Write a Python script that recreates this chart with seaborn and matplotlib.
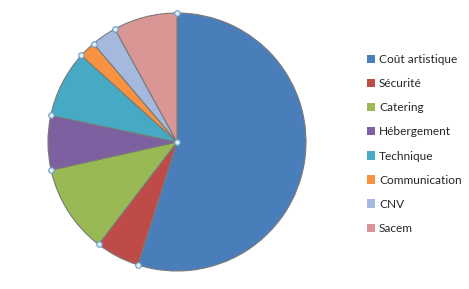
import numpy as np
import matplotlib
matplotlib.use("Agg")
import matplotlib.pyplot as plt
import seaborn as sns
from matplotlib.patches import Patch

categories = ["Coût artistique", "Sécurité", "Catering", "Hébergement",
              "Technique", "Communication", "CNV", "Sacem"]
values = [54.9, 5.5, 11.1, 6.8, 8.4, 2.1, 3.2, 8.0]
colors = ["#4A7EBB", "#BE4B48", "#98B954", "#7D60A0",
          "#46AAC5", "#F69240", "#A5B9DE", "#D99694"]

sns.set_style("white")
plt.rcParams["font.family"] = ["Lato", "DejaVu Sans"]
palette = sns.color_palette(colors)

fig = plt.figure(figsize=(4.69, 2.89), dpi=100)
ax = fig.add_axes([48 / 469, (289 - 271) / 289, 258 / 469, 258 / 289])
wedges, _ = ax.pie(values, colors=palette, startangle=90, counterclock=False,
                   wedgeprops=dict(edgecolor="#7a7a7a", linewidth=0.8))
ax.set_xlim(-1.0, 1.0)
ax.set_ylim(-1.0, 1.0)
ax.set_aspect("equal")
ax.axis("off")

# selection handles at wedge boundaries (from data)
cum = np.cumsum([0] + values[:-1]) / sum(values)
ang = np.deg2rad(90 - cum * 360)
hx = np.concatenate([np.cos(ang), [0]])
hy = np.concatenate([np.sin(ang), [0]])
ax.scatter(hx, hy, s=16, facecolor="#DCEFF8", edgecolor="#6E9AC8",
           linewidth=0.8, zorder=5, clip_on=False)

handles = [Patch(facecolor=c, edgecolor="none") for c in palette]
fig.legend(handles, categories, loc="upper left",
           bbox_to_anchor=(361 / 469, 1 - 48 / 289), frameon=False,
           fontsize=8.6, handlelength=0.7, handleheight=0.7,
           handletextpad=0.3, labelspacing=1.1, borderpad=0)

fig.savefig("out.png", dpi=100)
